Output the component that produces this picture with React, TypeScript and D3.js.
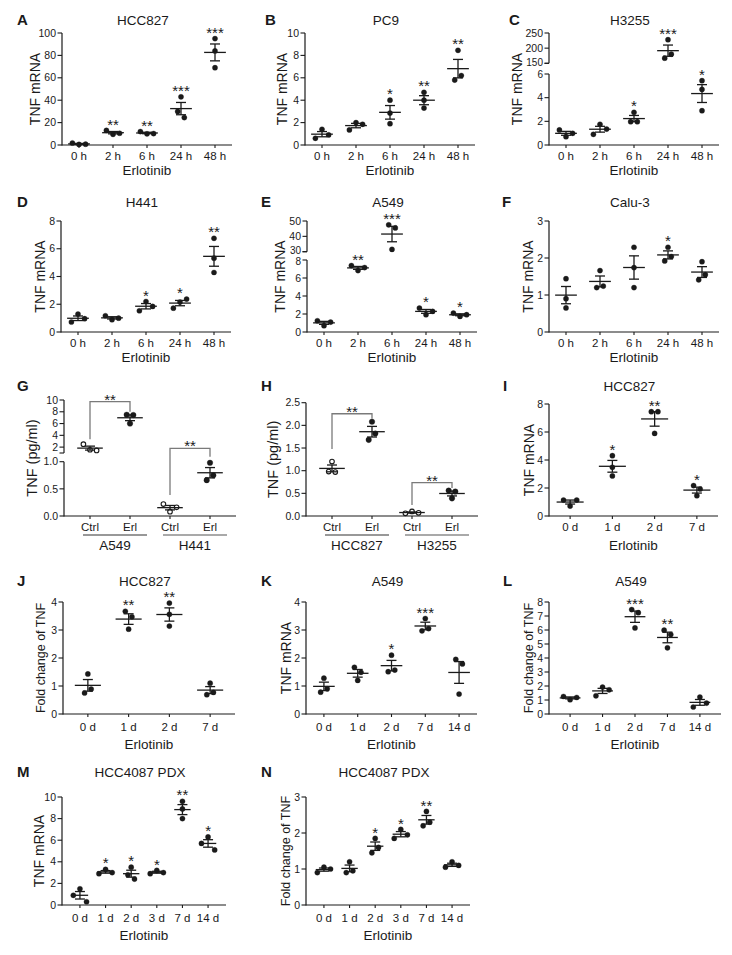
import React from 'react';
import * as d3 from 'd3';

const FONT = '"Liberation Sans", Arial, Helvetica, sans-serif';
const INK = '#1a1a1a';

// ---------- categories ----------
const hourCats = ['0 h', '2 h', '6 h', '24 h', '48 h'];
const dayCats4 = ['0 d', '1 d', '2 d', '7 d'];
const dayCats5 = ['0 d', '1 d', '2 d', '7 d', '14 d'];
const pdxCats = ['0 d', '1 d', '2 d', '3 d', '7 d', '14 d'];
const trtCats = ['Ctrl', 'Erl', 'Ctrl', 'Erl'];

// ---------- values (3 replicates per group) ----------
const aValues = [[0.5, 1.8, 0.7], [9.5, 13, 10.5], [10, 12, 10.2], [43, 30, 24.5], [95, 84, 69]];
const aStars = ['', '**', '**', '***', '***'];
const bValues = [[1.4, 0.6, 0.9], [2.0, 1.35, 1.85], [4.0, 2.85, 1.9], [4.7, 4.0, 3.3], [8.45, 5.8, 6.2]];
const bStars = ['', '', '*', '**', '**'];
const cValues = [[0.7, 1.27, 0.99], [1.75, 0.9, 1.35], [2.76, 1.97, 1.97], [228, 167, 180], [5.44, 4.7, 2.9]];
const cStars = ['', '', '*', '***', '*'];
const dValues = [[1.29, 0.72, 0.96], [0.89, 1.17, 1.0], [2.2, 1.53, 1.84], [2.16, 1.72, 2.37], [6.75, 5.32, 4.29]];
const dStars = ['', '', '*', '*', '**'];
const eValues = [[0.7, 1.25, 1.1], [6.83, 7.38, 7.16], [31.5, 47.5, 45.5], [1.92, 2.66, 2.29], [1.73, 2.1, 1.92]];
const eStars = ['', '**', '***', '*', '*'];
const fValues = [[1.44, 0.9, 0.65], [1.66, 1.2, 1.24], [2.29, 1.74, 1.2], [2.29, 1.92, 2.04], [1.9, 1.41, 1.55]];
const fStars = ['', '', '', '*', ''];
const gValues = [[1.55, 2.5, 1.44], [7.5, 7.45, 6.0], [0.08, 0.22, 0.16], [0.98, 0.66, 0.75]];
const gGroups = ['A549', 'H441'];
const hValues = [[1.2, 0.98, 0.97], [2.08, 1.68, 1.82], [0.1, 0.06, 0.07], [0.56, 0.39, 0.54]];
const hGroups = ['HCC827', 'H3255'];
const ctrlOpen = [true, false, true, false];
const iValues = [[0.71, 1.14, 1.14], [4.31, 3.48, 2.86], [7.45, 7.45, 5.9], [2.17, 1.93, 1.45]];
const iStars = ['', '*', '**', '*'];
const jValues = [[1.43, 0.75, 0.89], [3.67, 3.47, 3.03], [3.96, 3.56, 3.14], [1.1, 0.69, 0.77]];
const jStars = ['', '**', '**', ''];
const kValues = [[1.28, 0.78, 0.9], [1.67, 1.49, 1.2], [2.1, 1.51, 1.57], [3.41, 2.97, 3.05], [1.95, 1.79, 0.71]];
const kStars = ['', '', '*', '***', ''];
const lValues = [[1.02, 1.25, 1.18], [1.92, 1.3, 1.73], [7.46, 7.24, 6.15], [5.99, 5.68, 4.73], [1.21, 0.5, 0.78]];
const lStars = ['', '', '***', '**', ''];
const mValues = [[1.5, 0.9, 0.3], [3.3, 2.9, 3.0], [3.5, 2.8, 2.4], [3.2, 2.9, 3.0], [9.6, 8.9, 8.0], [6.3, 5.7, 5.1]];
const mStars = ['', '*', '*', '*', '**', '*'];
const nValues = [[1.05, 0.9, 1.0], [1.2, 0.9, 0.95], [1.85, 1.45, 1.6], [2.1, 1.85, 1.95], [2.6, 2.2, 2.3], [1.2, 1.05, 1.1]];
const nStars = ['', '', '*', '*', '**', ''];

// ---------- tick values ----------
const ticks0to100 = [0, 20, 40, 60, 80, 100];
const ticks0to10 = [0, 2, 4, 6, 8, 10];
const ticks0to8 = [0, 2, 4, 6, 8];
const ticks0to6 = [0, 2, 4, 6];
const ticks150to250 = [150, 200, 250];
const ticks30to50 = [30, 40, 50];
const ticks0to3 = [0, 1, 2, 3];
const ticks0to4 = [0, 1, 2, 3, 4];
const ticks0to8by1 = [0, 1, 2, 3, 4, 5, 6, 7, 8];
const ticksPgLow = [0, 0.5, 1.0];
const ticksPgHigh = [2, 4, 6, 8, 10];
const ticks0to2p5 = [0, 0.5, 1.0, 1.5, 2.0, 2.5];

type Seg = { domain: [number, number]; range: [number, number]; ticks: number[]; fmt?: string };
type Bracket = { a: number; b: number; label: string; gl: number; gt: number; gr: number };
type Cfg = {
  letter: string; lx: number; ly: number; title: string;
  x0: number; W: number; pad: number; cats: string[]; vals: number[][]; stars?: string[];
  segs: Seg[]; ylab: string; ylabSize: number; ylabDx: number;
  tickDy: number; xlabDy?: number; xlab?: string;
  open?: boolean[]; groups?: string[]; brackets?: Bracket[]; r?: number;
};

const R1 = { zero: 145, top: 33, ly: 20 };
const R2 = { zero: 332, top: 221, ly: 202 };
const R3 = { zero: 516, top: 404, ly: 386 };
const R4 = { zero: 714, top: 602, ly: 581 };
const R5 = { zero: 905, top: 797, ly: 772 };
const C1 = 62, C2 = 306, C3 = 549;

const panels: Cfg[] = [
  { letter: 'A', lx: 17, ly: R1.ly, title: 'HCC827', x0: C1, W: 170, pad: 0.5, cats: hourCats, vals: aValues, stars: aStars,
    segs: [{ domain: [0, 100], range: [R1.zero, R1.top], ticks: ticks0to100 }], ylab: 'TNF mRNA', ylabSize: 14, ylabDx: -27, tickDy: 11, xlabDy: 25, xlab: 'Erlotinib' },
  { letter: 'B', lx: 265, ly: R1.ly, title: 'PC9', x0: C2 - 1, W: 170, pad: 0.5, cats: hourCats, vals: bValues, stars: bStars,
    segs: [{ domain: [0, 10], range: [R1.zero, R1.top], ticks: ticks0to10 }], ylab: 'TNF mRNA', ylabSize: 14, ylabDx: -23, tickDy: 11, xlabDy: 25, xlab: 'Erlotinib' },
  { letter: 'C', lx: 509, ly: R1.ly, title: 'H3255', x0: C3, W: 170, pad: 0.5, cats: hourCats, vals: cValues, stars: cStars,
    segs: [{ domain: [0, 6], range: [R1.zero, 74], ticks: ticks0to6 }, { domain: [150, 250], range: [63.3, R1.top], ticks: ticks150to250 }],
    ylab: 'TNF mRNA', ylabSize: 14, ylabDx: -32, tickDy: 11, xlabDy: 25, xlab: 'Erlotinib' },
  { letter: 'D', lx: 17, ly: R2.ly, title: 'H441', x0: C1 - 1, W: 170, pad: 0.5, cats: hourCats, vals: dValues, stars: dStars,
    segs: [{ domain: [0, 8], range: [R2.zero, R2.top], ticks: ticks0to8 }], ylab: 'TNF mRNA', ylabSize: 14, ylabDx: -21, tickDy: 10.5, xlabDy: 25.5, xlab: 'Erlotinib' },
  { letter: 'E', lx: 261, ly: R2.ly, title: 'A549', x0: C2 + 1, W: 170, pad: 0.5, cats: hourCats, vals: eValues, stars: eStars,
    segs: [{ domain: [0, 8], range: [R2.zero, 260], ticks: ticks0to8 }, { domain: [30, 50], range: [251.7, R2.top], ticks: ticks30to50 }],
    ylab: 'TNF mRNA', ylabSize: 14, ylabDx: -27, tickDy: 10.5, xlabDy: 25.5, xlab: 'Erlotinib' },
  { letter: 'F', lx: 502, ly: R2.ly, title: 'Calu-3', x0: C3, W: 170, pad: 0.5, cats: hourCats, vals: fValues, stars: fStars,
    segs: [{ domain: [0, 3], range: [R2.zero, R2.top], ticks: ticks0to3 }], ylab: 'TNF mRNA', ylabSize: 14, ylabDx: -21, tickDy: 10.5, xlabDy: 25.5, xlab: 'Erlotinib' },
  { letter: 'G', lx: 17, ly: R3.ly, title: '', x0: C1 + 2, W: 172, pad: 0.65, cats: trtCats, vals: gValues, open: ctrlOpen, groups: gGroups, r: 2.8,
    segs: [{ domain: [0, 1], range: [R3.zero, 461.7], ticks: ticksPgLow, fmt: '.1f' }, { domain: [1, 10], range: [453, 400], ticks: ticksPgHigh }],
    brackets: [{ a: 0, b: 1, label: '**', gl: 5, gt: 13, gr: 3 }, { a: 2, b: 3, label: '**', gl: 9, gt: 14.5, gr: 6 }],
    ylab: 'TNF (pg/ml)', ylabSize: 14.5, ylabDx: -32, tickDy: 11 },
  { letter: 'H', lx: 261, ly: R3.ly, title: '', x0: C2, W: 172, pad: 0.65, cats: trtCats, vals: hValues, open: ctrlOpen, groups: hGroups, r: 2.8,
    segs: [{ domain: [0, 2.5], range: [R3.zero, 402.7], ticks: ticks0to2p5, fmt: '.1f' }],
    brackets: [{ a: 0, b: 1, label: '**', gl: 12.5, gt: 8, gr: 3 }, { a: 2, b: 3, label: '**', gl: 6.5, gt: 8, gr: 2.6 }],
    ylab: 'TNF (pg/ml)', ylabSize: 14.5, ylabDx: -33, tickDy: 11 },
  { letter: 'I', lx: 503, ly: R3.ly, title: 'HCC827', x0: C3, W: 169, pad: 0.5, cats: dayCats4, vals: iValues, stars: iStars,
    segs: [{ domain: [0, 8], range: [R3.zero, R3.top], ticks: ticks0to8 }], ylab: 'TNF mRNA', ylabSize: 14, ylabDx: -20, tickDy: 11.3, xlabDy: 29, xlab: 'Erlotinib' },
  { letter: 'J', lx: 17, ly: R4.ly, title: 'HCC827', x0: C1 + 1, W: 172, pad: 0.61, cats: dayCats4, vals: jValues, stars: jStars,
    segs: [{ domain: [0, 4], range: [R4.zero, R4.top], ticks: ticks0to4 }], ylab: 'Fold change of TNF', ylabSize: 12.5, ylabDx: -22, tickDy: 12.7, xlabDy: 30.3, xlab: 'Erlotinib' },
  { letter: 'K', lx: 261, ly: R4.ly, title: 'A549', x0: C2, W: 171, pad: 0.53, cats: dayCats5, vals: kValues, stars: kStars,
    segs: [{ domain: [0, 4], range: [R4.zero, R4.top], ticks: ticks0to4 }], ylab: 'TNF mRNA', ylabSize: 14, ylabDx: -20, tickDy: 12.7, xlabDy: 30.3, xlab: 'Erlotinib' },
  { letter: 'L', lx: 503, ly: R4.ly, title: 'A549', x0: C3, W: 172, pad: 0.65, cats: dayCats5, vals: lValues, stars: lStars,
    segs: [{ domain: [0, 8], range: [R4.zero, R4.top], ticks: ticks0to8by1 }], ylab: 'Fold change of TNF', ylabSize: 12.5, ylabDx: -20, tickDy: 12.7, xlabDy: 30.3, xlab: 'Erlotinib' },
  { letter: 'M', lx: 17, ly: R5.ly, title: 'HCC4087 PDX', x0: C1, W: 164, pad: 0.7, cats: pdxCats, vals: mValues, stars: mStars,
    segs: [{ domain: [0, 10], range: [R5.zero, R5.top], ticks: ticks0to10 }], ylab: 'TNF mRNA', ylabSize: 14, ylabDx: -23, tickDy: 12.5, xlabDy: 30, xlab: 'Erlotinib' },
  { letter: 'N', lx: 261, ly: R5.ly, title: 'HCC4087 PDX', x0: C2, W: 164, pad: 0.7, cats: pdxCats, vals: nValues, stars: nStars,
    segs: [{ domain: [0, 3], range: [R5.zero, R5.top], ticks: ticks0to3 }], ylab: 'Fold change of TNF', ylabSize: 12.5, ylabDx: -20, tickDy: 12.5, xlabDy: 30, xlab: 'Erlotinib' },
];

function clusterOffsets(ys: number[], gap: number, step: number): number[] {
  const idx = ys.map((_, i) => i).sort((a, b) => ys[a] - ys[b]);
  const clusters: number[][] = [];
  idx.forEach((i, k) => {
    if (k > 0 && Math.abs(ys[i] - ys[idx[k - 1]]) < gap) clusters[clusters.length - 1].push(i);
    else clusters.push([i]);
  });
  const off = new Array(ys.length).fill(0);
  clusters.forEach((c) => {
    const members = [...c].sort((a, b) => a - b);
    const n = members.length;
    const slots = d3.range(n).map((k) => (k - (n - 1) / 2) * step)
      .sort((a, b) => Math.abs(a) - Math.abs(b) || a - b);
    members.forEach((m, k) => { off[m] = slots[k]; });
  });
  return off;
}

const Txt = ({ x, y, s, a = 'middle', w = 'normal', rot = false, fill = INK, children }: any) => (
  <text x={x} y={y} fontSize={s} textAnchor={a} fontWeight={w} fontFamily={FONT} fill={fill}
    transform={rot ? `rotate(-90 ${x} ${y})` : undefined}>{children}</text>
);

function Panel({ p }: { p: Cfg }) {
  const segScales = p.segs.map((s) => d3.scaleLinear().domain(s.domain).range(s.range));
  const yOf = (v: number) => {
    for (let k = p.segs.length - 1; k > 0; k--) if (v >= p.segs[k].domain[0]) return segScales[k](v);
    return segScales[0](v);
  };
  const keys = p.cats.map((_, i) => String(i));
  const xs = d3.scalePoint<string>().domain(keys).range([p.x0, p.x0 + p.W]).padding(p.pad);
  const step = xs.step();
  const zero = p.segs[0].range[0];
  const topY = p.segs[p.segs.length - 1].range[1];
  const r = p.r ?? 2.6;
  const meanHalf = step * 0.32;
  const capHalf = 5;
  const midX = p.x0 + p.W / 2;
  const els: any[] = [];

  // axes
  els.push(<line key="xa" x1={p.x0} x2={p.x0 + p.W} y1={zero} y2={zero} stroke={INK} strokeWidth={1.2} />);
  const labels: { y: number; text: string; size: number; key: string }[] = [];
  p.segs.forEach((s, k) => {
    els.push(<line key={'ya' + k} x1={p.x0} x2={p.x0} y1={s.range[0] + (k === 0 ? 0.6 : 0)} y2={s.range[1]} stroke={INK} strokeWidth={1.2} />);
    if (k > 0) {
      // end tick of the upper segment at the axis break
      const yb = s.range[0];
      els.push(<line key={'yb' + k} x1={p.x0 - 4.5} x2={p.x0} y1={yb} y2={yb} stroke={INK} strokeWidth={1.1} />);
    }
    const f = s.fmt ? d3.format(s.fmt) : (v: number) => String(v);
    s.ticks.forEach((t, j) => {
      const y = segScales[k](t);
      els.push(<line key={`yt${k}_${j}`} x1={p.x0 - 4.5} x2={p.x0} y1={y} y2={y} stroke={INK} strokeWidth={1.1} />);
      labels.push({ y, text: f(t), size: 10.5, key: `yl${k}_${j}` });
    });
  });
  // keep crowded labels at an axis break readable
  labels.sort((a, b) => a.y - b.y);
  for (let i = 1; i < labels.length; i++) {
    const a = labels[i - 1], b = labels[i];
    const dy = b.y - a.y;
    if (dy < 11.4) {
      const push = (11.4 - dy) / 2;
      a.y -= push; b.y += push; a.size = 10; b.size = 10;
    }
  }
  labels.forEach((l) => els.push(<Txt key={l.key} x={p.x0 - 6} y={l.y + 0.35 * l.size} s={l.size} a="end">{l.text}</Txt>));

  // x ticks & labels
  p.cats.forEach((c, i) => {
    const x = xs(String(i))!;
    els.push(<line key={'xt' + i} x1={x} x2={x} y1={zero} y2={zero + 3} stroke={INK} strokeWidth={1.1} />);
    els.push(<Txt key={'xl' + i} x={x} y={zero + p.tickDy + 4.1} s={11.5}>{c}</Txt>);
  });
  if (p.xlab) els.push(<Txt key="xlab" x={midX} y={zero + (p.xlabDy ?? 25) + 4.8} s={13.5}>{p.xlab}</Txt>);
  // groups (G/H)
  if (p.groups) {
    p.groups.forEach((g, gi) => {
      const xa = xs(String(gi * 2))!, xb = xs(String(gi * 2 + 1))!;
      const cx = (xa + xb) / 2 + 5;
      els.push(<line key={'gu' + gi} x1={cx - 32} x2={cx + 32} y1={zero + 19} y2={zero + 19} stroke={gi === 0 ? '#333' : '#555'} strokeWidth={1.2} />);
      els.push(<Txt key={'gl' + gi} x={cx} y={zero + 29 + 4.8} s={13.5}>{g}</Txt>);
    });
  }
  // y label
  const ymid = (zero + topY) / 2;
  const ylx = p.x0 + p.ylabDx + 0.358 * p.ylabSize;
  els.push(<Txt key="ylab" x={ylx} y={ymid} s={p.ylabSize} rot>{p.ylab}</Txt>);
  // letter & title
  els.push(<Txt key="let" x={p.lx} y={p.ly + 5.4} s={15} a="start" w="bold">{p.letter}</Txt>);
  if (p.title) els.push(<Txt key="tit" x={midX - 4} y={p.ly + 4.8} s={13.5}>{p.title}</Txt>);

  // data
  p.vals.forEach((vals, i) => {
    const xc = xs(String(i))!;
    const ys = vals.map(yOf);
    const offs = clusterOffsets(ys, 6.5, 6.6);
    const m = d3.mean(vals)!;
    const sem = d3.deviation(vals)! / Math.sqrt(vals.length);
    const ym = yOf(m), yh = yOf(m + sem), yl = yOf(m - sem);
    const open = p.open ? p.open[i] : false;
    ys.forEach((y, j) => {
      els.push(<circle key={`pt${i}_${j}`} cx={xc + offs[j]} cy={y} r={open ? r - 0.5 : r}
        fill={open ? '#fff' : INK} stroke={INK} strokeWidth={open ? 1.1 : 0.3} />);
    });
    els.push(<line key={'mn' + i} x1={xc - meanHalf} x2={xc + meanHalf} y1={ym} y2={ym} stroke={INK} strokeWidth={1.3} />);
    els.push(<line key={'sv' + i} x1={xc} x2={xc} y1={yh} y2={yl} stroke={INK} strokeWidth={1.3} />);
    els.push(<line key={'sh' + i} x1={xc - capHalf} x2={xc + capHalf} y1={yh} y2={yh} stroke={INK} strokeWidth={1.3} />);
    els.push(<line key={'sl' + i} x1={xc - capHalf} x2={xc + capHalf} y1={yl} y2={yl} stroke={INK} strokeWidth={1.3} />);
    const top = Math.min(d3.min(ys)!, yh);
    const st = p.stars ? p.stars[i] : '';
    if (st) els.push(<Txt key={'st' + i} x={xc} y={top - 9.5 + 8.6} s={15}>{st}</Txt>);
  });
  // brackets
  (p.brackets || []).forEach((b, k) => {
    const xa = xs(String(b.a))!, xb = xs(String(b.b))!;
    const ta = d3.min(p.vals[b.a].map(yOf))!;
    const tb = d3.min(p.vals[b.b].map(yOf))!;
    const yTop = tb - b.gt;
    const path = `M${xa},${ta - b.gl}V${yTop}H${xb}V${tb - b.gr}`;
    els.push(<path key={'br' + k} d={path} fill="none" stroke="#7a7a7a" strokeWidth={1.3} />);
    els.push(<Txt key={'bs' + k} x={(xa + xb) / 2} y={yTop - 5.5 + 8.6} s={15}>{b.label}</Txt>);
  });
  return <g>{els}</g>;
}

export default function App() {
  return (
    <svg width={732} height={955} viewBox="0 0 732 955"
      style={{ position: 'absolute', left: 0, top: 0, display: 'block', background: '#fff' }}>
      <rect x={0} y={0} width={732} height={955} fill="#fff" />
      {panels.map((p) => <Panel key={p.letter} p={p} />)}
    </svg>
  );
}
